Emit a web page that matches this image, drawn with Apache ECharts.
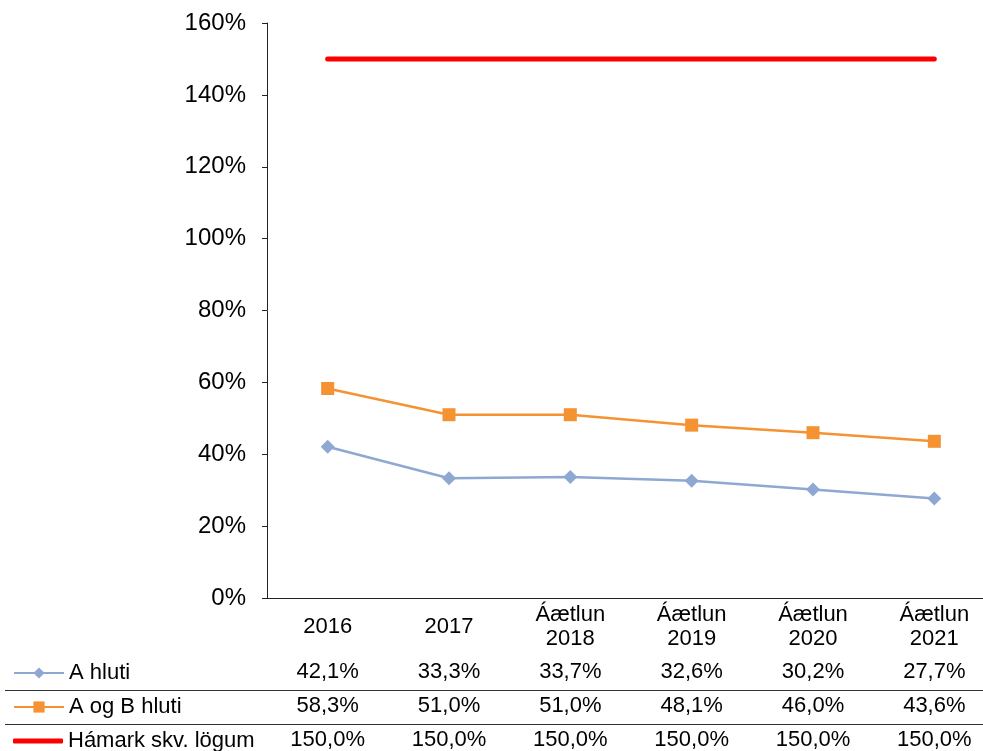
<!DOCTYPE html>
<html lang="is">
<head>
<meta charset="UTF-8">
<title>A hluti / A og B hluti</title>
<script src="https://cdn.jsdelivr.net/npm/echarts@6/dist/echarts.min.js"></script>
<style>
  html, body { margin: 0; padding: 0; background: #fff; overflow: hidden; }
  /* the original chart runs slightly past the right edge of the picture */
  #chart { width: 995px; height: 751px; }
</style>
</head>
<body>
<div id="chart"></div>
<script>
  // categories and series values (percent)
  const categories = ['2016', '2017', 'Áætlun\n2018', 'Áætlun\n2019', 'Áætlun\n2020', 'Áætlun\n2021'];
  const aHluti = [42.1, 33.3, 33.7, 32.6, 30.2, 27.7];
  const aogBHluti = [58.3, 51.0, 51.0, 48.1, 46.0, 43.6];
  const hamark = [150.0, 150.0, 150.0, 150.0, 150.0, 150.0];
  const seriesNames = ['A hluti', 'A og B hluti', 'Hámark skv. lögum'];

  const FONT = 'Liberation Sans, Arial, sans-serif';
  const fmt = v => v.toFixed(1).replace('.', ',') + '%';

  // a bottom axis per table row, showing that row's values
  function tableAxis(values, offset) {
    return {
      type: 'category',
      data: categories,
      gridIndex: 0,
      position: 'bottom',
      offset: offset,
      axisLine: { show: false },
      axisTick: { show: false },
      axisLabel: {
        margin: 0,
        interval: 0,
        verticalAlign: 'middle',
        color: '#000',
        fontFamily: FONT,
        fontSize: 22,
        formatter: (v, i) => fmt(values[i])
      }
    };
  }

  function rowLegend(name, top, extra) {
    return Object.assign({
      data: [name],
      left: 13,
      top: top,
      padding: 0,
      itemWidth: 50,
      itemHeight: 14,
      itemGap: 5,
      textStyle: { color: '#000', fontFamily: FONT, fontSize: 22, lineHeight: 20 },
      selectedMode: false
    }, extra || {});
  }

  const chart = echarts.init(document.getElementById('chart'));

  chart.setOption({
    backgroundColor: '#fff',
    animation: false,
    grid: { left: 267, top: 23, right: 0, bottom: 153, containLabel: false },
    legend: [
      rowLegend(seriesNames[0], 662),
      rowLegend(seriesNames[1], 696),
      rowLegend(seriesNames[2], 730, {
        data: [{ name: seriesNames[2], icon: 'roundRect' }],
        itemHeight: 5
      })
    ],
    xAxis: [
      {
        type: 'category',
        data: categories,
        boundaryGap: true,
        axisLine: { lineStyle: { color: '#222', width: 1 } },
        axisTick: { show: false },
        axisLabel: {
          margin: 29,
          interval: 0,
          verticalAlign: 'middle',
          lineHeight: 24,
          color: '#000',
          fontFamily: FONT,
          fontSize: 22
        }
      },
      tableAxis(aHluti, 74),
      tableAxis(aogBHluti, 108),
      tableAxis(hamark, 142)
    ],
    yAxis: {
      type: 'value',
      min: 0,
      max: 160,
      interval: 20,
      axisLine: { show: true, lineStyle: { color: '#222', width: 1 } },
      axisTick: { show: true, inside: false, length: 5, lineStyle: { color: '#222' } },
      splitLine: { show: false },
      axisLabel: {
        margin: 21,
        color: '#000',
        fontFamily: FONT,
        fontSize: 24,
        formatter: '{value}%'
      }
    },
    graphic: [
      { type: 'line', shape: { x1: 5, y1: 690.5, x2: 995, y2: 690.5 }, style: { stroke: '#333', lineWidth: 1 } },
      { type: 'line', shape: { x1: 5, y1: 724.5, x2: 995, y2: 724.5 }, style: { stroke: '#333', lineWidth: 1 } }
    ],
    series: [
      {
        name: seriesNames[0],
        type: 'line',
        data: aHluti,
        symbol: 'diamond',
        symbolSize: 14,
        itemStyle: { color: '#8ea8d2' },
        lineStyle: { color: '#8ea8d2', width: 2.5 }
      },
      {
        name: seriesNames[1],
        type: 'line',
        data: aogBHluti,
        symbol: 'rect',
        symbolSize: 13,
        itemStyle: { color: '#f59332' },
        lineStyle: { color: '#f59332', width: 2.5 }
      },
      {
        name: seriesNames[2],
        type: 'line',
        data: hamark,
        symbol: 'none',
        showSymbol: false,
        itemStyle: { color: '#ff0000' },
        lineStyle: { color: '#ff0000', width: 5, cap: 'round' }
      }
    ]
  });
</script>
</body>
</html>
